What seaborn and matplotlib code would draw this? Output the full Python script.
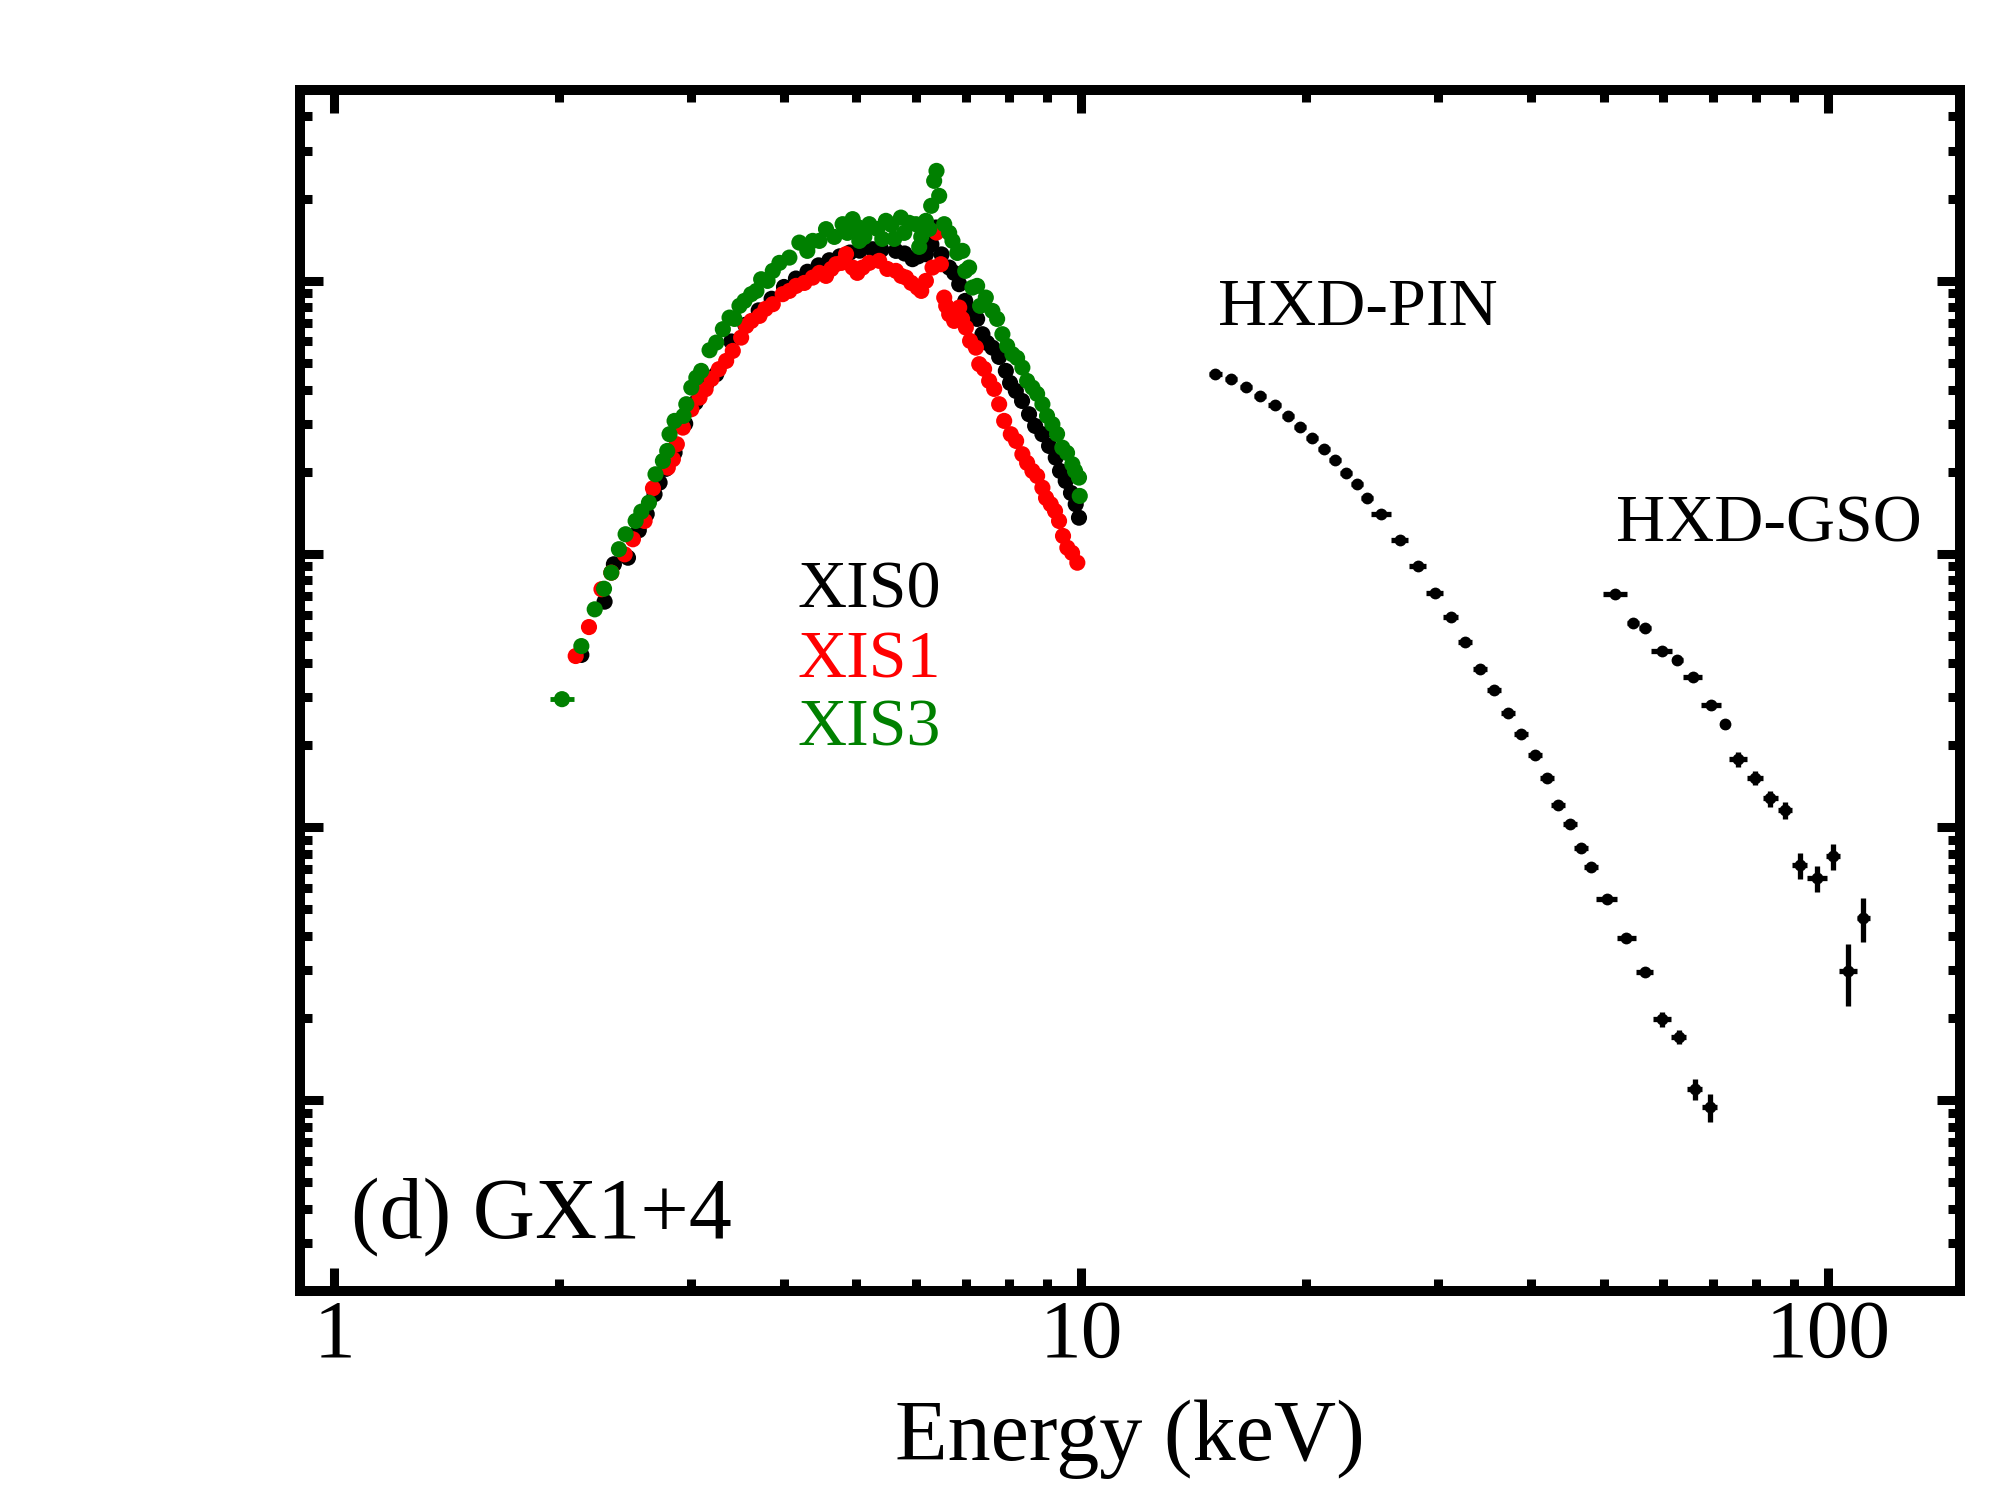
import numpy as np
import pandas as pd
import matplotlib
matplotlib.use("Agg")
import matplotlib.pyplot as plt
from matplotlib.ticker import FixedLocator, FixedFormatter, LogLocator, NullFormatter
import seaborn as sns

# XIS0 (black) - energy (keV), counts
xis0_e = [2.142, 2.301, 2.368, 2.473, 2.557, 2.62, 2.684, 2.726, 2.78, 2.855, 2.95,
          3.046, 3.15, 3.246, 3.40, 3.55, 3.70, 3.85, 4.00, 4.15, 4.30, 4.45, 4.60,
          4.75, 4.90, 5.05, 5.255, 5.40, 5.648, 5.80, 5.944, 6.05, 6.194, 6.30, 6.389,
          6.50, 6.655, 6.758, 6.864, 6.992, 7.150, 7.254, 7.373, 7.480, 7.603, 7.763,
          7.925, 8.029, 8.173, 8.331, 8.512, 8.673, 8.870, 9.054, 9.243, 9.365, 9.531,
          9.687, 9.829, 9.929]
xis0_y = [0.0427, 0.0669, 0.0917, 0.0969, 0.1221, 0.140, 0.1655, 0.1825, 0.205, 0.2350, 0.300,
          0.3583, 0.420, 0.4551, 0.60, 0.69, 0.78, 0.86, 0.95, 1.02, 1.08, 1.14, 1.19,
          1.23, 1.27, 1.29, 1.306, 1.30, 1.288, 1.26, 1.201, 1.23, 1.252, 1.36, 1.568,
          1.25, 1.119, 1.070, 0.9725, 0.8448, 0.7763, 0.7257, 0.6378, 0.5928, 0.5696, 0.5267,
          0.4682, 0.4230, 0.3955, 0.3634, 0.3249, 0.2944, 0.2745, 0.2487, 0.2253, 0.2014, 0.1851,
          0.1673, 0.1521, 0.1358]

# XIS1 (red)
xis1_e = [2.105, 2.193, 2.279, 2.349, 2.448, 2.511, 2.603, 2.671, 2.796, 2.840, 2.875,
          2.929, 3.006, 3.083, 3.141, 3.199, 3.272, 3.347, 3.416, 3.505, 3.560, 3.618,
          3.709, 3.778, 3.864, 3.984, 4.067, 4.152, 4.259, 4.370, 4.461, 4.553, 4.628,
          4.696, 4.774, 4.843, 4.942, 5.014, 5.096, 5.202, 5.364, 5.500, 5.648, 5.741,
          5.826, 5.921, 6.036, 6.106, 6.194, 6.322, 6.400, 6.487, 6.554, 6.594, 6.655,
          6.758, 6.864, 6.925, 7.006, 7.098, 7.226, 7.301, 7.411, 7.527, 7.645, 7.763,
          7.884, 8.047, 8.180, 8.339, 8.462, 8.601, 8.727, 8.870, 8.970, 9.101, 9.222,
          9.337, 9.452, 9.579, 9.719, 9.878]
xis1_y = [0.0423, 0.0540, 0.0743, 0.0854, 0.0997, 0.1132, 0.1321, 0.1740, 0.2071, 0.2223, 0.2522,
          0.2902, 0.3389, 0.3737, 0.4012, 0.4375, 0.4749, 0.5093, 0.5541, 0.6199, 0.6842, 0.7137,
          0.7445, 0.7900, 0.8216, 0.8940, 0.9191, 0.9587, 0.983, 1.028, 1.070, 1.043, 1.106,
          1.151, 1.164, 1.253, 1.119, 1.070, 1.119, 1.164, 1.184, 1.106, 1.088, 1.043,
          1.028, 0.983, 0.9451, 0.9191, 1.000, 1.119, 1.503, 1.151, 0.8686, 0.8100, 0.7551,
          0.7137, 0.7985, 0.7257, 0.6746, 0.6029, 0.5696, 0.4954, 0.4761, 0.4302, 0.4022, 0.3535,
          0.3071, 0.2745, 0.2594, 0.2319, 0.2155, 0.2014, 0.1931, 0.1749, 0.1604, 0.1521, 0.1437,
          0.1321, 0.1164, 0.1054, 0.1009, 0.0929]

# XIS3 (green)
xis3_e = [2.018, 2.142, 2.232, 2.297, 2.349, 2.405, 2.455, 2.532, 2.577, 2.638, 2.692,
          2.754, 2.791, 2.811, 2.855, 2.935, 2.960, 3.006, 3.053, 3.099, 3.180, 3.246,
          3.313, 3.382, 3.434, 3.487, 3.541, 3.615, 3.674, 3.728, 3.802, 3.864, 3.944,
          4.067, 4.194, 4.298, 4.370, 4.461, 4.553, 4.671, 4.792, 4.862, 4.942, 5.014,
          5.045, 5.124, 5.202, 5.333, 5.415, 5.476, 5.568, 5.618, 5.735, 5.794, 5.884,
          6.006, 6.068, 6.106, 6.194, 6.258, 6.296, 6.354, 6.400, 6.453, 6.554, 6.655,
          6.723, 6.823, 6.933, 6.992, 7.077, 7.150, 7.254, 7.321, 7.450, 7.603, 7.715,
          7.841, 7.957, 8.087, 8.205, 8.339, 8.462, 8.601, 8.727, 8.870, 8.998, 9.147,
          9.280, 9.432, 9.570, 9.727, 9.808, 9.929, 9.952]
xis3_y = [0.0294, 0.0460, 0.0627, 0.0746, 0.0854, 0.1041, 0.1181, 0.1321, 0.1429, 0.1541, 0.1958,
          0.2191, 0.2384, 0.2745, 0.3071, 0.3203, 0.3535, 0.4067, 0.4422, 0.4682, 0.5573, 0.5943,
          0.6655, 0.7338, 0.7257, 0.8100, 0.8448, 0.8940, 0.9191, 1.014, 1.000, 1.088, 1.164,
          1.217, 1.381, 1.288, 1.401, 1.401, 1.547, 1.449, 1.613, 1.499, 1.683, 1.577,
          1.401, 1.449, 1.613, 1.550, 1.425, 1.659, 1.604, 1.425, 1.705, 1.499, 1.631,
          1.613, 1.332, 1.449, 1.659, 1.550, 1.883, 2.324, 2.528, 2.048, 1.613, 1.499,
          1.401, 1.266, 1.288, 1.088, 1.119, 0.9451, 0.9587, 0.8100, 0.8686, 0.7763, 0.7257,
          0.6378, 0.5778, 0.5388, 0.5222, 0.4814, 0.4302, 0.4067, 0.3856, 0.3535, 0.3203, 0.2987,
          0.2751, 0.2451, 0.2344, 0.2131, 0.2014, 0.1904, 0.1631]

# half bin widths of the lowest-energy XIS bins (only ones wider than the dots)
xis0_low_hw = [0.035]
xis1_low_hw = [0.035]
xis3_low_hw = [0.073, 0.045]

# HXD-PIN
pin_e = [15.12, 15.87, 16.62, 17.37, 18.14, 18.89, 19.65, 20.37, 21.11, 21.83, 22.61,
         23.38, 24.12, 25.20, 26.67, 28.19, 29.71, 31.20, 32.65, 34.21, 35.65, 37.29,
         38.76, 40.43, 41.96, 43.49, 45.05, 46.61, 48.16, 50.51, 53.64, 56.75, 59.96,
         63.03, 66.19, 69.33]
pin_y = [0.455, 0.436, 0.409, 0.379, 0.3505, 0.3194, 0.2919, 0.2667, 0.2417, 0.2210, 0.1975,
         0.1800, 0.1600, 0.1397, 0.1122, 0.0902, 0.0718, 0.0588, 0.0475, 0.0379, 0.03176, 0.0261,
         0.02186, 0.01831, 0.01507, 0.01202, 0.01027, 0.0084, 0.00712, 0.00544, 0.00394, 0.00295, 0.00198,
         0.00171, 0.00110, 0.000941]
pin_xerr = [0.31, 0.29, 0.31, 0.32, 0.34, 0.35, 0.36, 0.38, 0.39, 0.40, 0.42,
            0.43, 0.45, 0.75, 0.72, 0.76, 0.81, 0.72, 0.70, 0.74, 0.77, 0.80,
            0.84, 0.87, 0.90, 0.94, 0.97, 1.0, 1.04, 1.60, 1.57, 1.54, 1.66,
            1.44, 1.57, 1.64]
pin_yerr = [0.004, 0.004, 0.004, 0.004, 0.003, 0.003, 0.003, 0.003, 0.003, 0.002, 0.002,
            0.002, 0.002, 0.002, 0.0015, 0.0012, 0.001, 0.0008, 0.0007, 0.0006, 0.0005, 0.0004,
            0.0004, 0.0003, 0.0003, 0.0002, 0.0002, 0.0002, 0.00015, 0.00012, 0.0001, 0.0001, 0.00012,
            0.0001, 0.0001, 0.00011]

# HXD-GSO
gso_e = [51.8, 54.7, 56.8, 59.8, 62.8, 65.8, 69.7, 72.7, 75.7, 79.7, 83.6, 87.6,
         91.5, 96.6, 101.5, 106.2, 111.4]
gso_y = [0.0712, 0.0560, 0.0534, 0.0441, 0.0409, 0.0354, 0.0279, 0.0238, 0.0177, 0.0151,
         0.01274, 0.01151, 0.00724, 0.00649, 0.00783, 0.00297, 0.00465]
gso_xerr = [1.9, 1.0, 1.0, 2.0, 1.0, 2.0, 2.1, 1.0, 2.0, 2.0, 1.9, 1.9,
            2.1, 3.0, 2.1, 2.9, 2.1]
gso_yerr = [0.002, 0.0017, 0.0016, 0.0013, 0.0012, 0.0011, 0.001, 0.0009, 0.00106, 0.0009,
            0.00085, 0.0008, 0.0008, 0.00071, 0.00086, 0.00075, 0.00085]

inst_colors = {"XIS0": "black", "XIS1": "#ff0000", "XIS3": "#008000"}

# draw order black -> red -> green, green ends up on top like the original
xis = pd.concat([
    pd.DataFrame({"E": xis0_e, "rate": xis0_y, "inst": "XIS0"}),
    pd.DataFrame({"E": xis1_e, "rate": xis1_y, "inst": "XIS1"}),
    pd.DataFrame({"E": xis3_e, "rate": xis3_y, "inst": "XIS3"}),
], ignore_index=True)

sns.set_theme(style="ticks")
plt.rcParams["font.family"] = ["Liberation Serif", "DejaVu Serif"]
plt.rcParams["text.color"] = "black"

fig = plt.figure(figsize=(20, 15), dpi=100)
ax = fig.add_axes([0.15, 0.1393, 0.83, 0.8007])

# low-energy XIS bins with visible width
ax.errorbar(xis0_e[:1], xis0_y[:1], xerr=xis0_low_hw, fmt="none", ecolor="black", elinewidth=3.5)
ax.errorbar(xis1_e[:1], xis1_y[:1], xerr=xis1_low_hw, fmt="none", ecolor="#ff0000", elinewidth=3.5)

sns.scatterplot(data=xis, x="E", y="rate", hue="inst", palette=inst_colors,
                hue_order=["XIS0", "XIS1", "XIS3"], s=135, linewidth=0,
                legend=False, ax=ax, zorder=3)
ax.errorbar(xis3_e[:2], xis3_y[:2], xerr=xis3_low_hw, fmt="none", ecolor="#008000",
            elinewidth=3.5, zorder=4)

ax.errorbar(pin_e, pin_y, xerr=pin_xerr, yerr=pin_yerr, fmt="o", color="black",
            ms=8.5, mew=0, elinewidth=3.8, capsize=0)
ax.errorbar(gso_e, gso_y, xerr=gso_xerr, yerr=gso_yerr, fmt="o", color="black",
            ms=8.5, mew=0, elinewidth=3.8, capsize=0)

ax.set_xscale("log")
ax.set_yscale("log")
ax.set_xlim(0.9, 150)
ax.set_ylim(2e-4, 5)

ax.xaxis.set_major_locator(FixedLocator([1, 10, 100]))
ax.xaxis.set_major_formatter(FixedFormatter(["1", "10", "100"]))
ax.xaxis.set_minor_locator(LogLocator(base=10, subs=np.arange(2, 10), numticks=100))
ax.xaxis.set_minor_formatter(NullFormatter())
ax.yaxis.set_major_locator(LogLocator(base=10, numticks=100))
ax.yaxis.set_minor_locator(LogLocator(base=10, subs=np.arange(2, 10), numticks=100))
ax.yaxis.set_major_formatter(NullFormatter())
ax.yaxis.set_minor_formatter(NullFormatter())

ax.tick_params(which="both", direction="in", top=True, right=True, color="black",
               width=6.5, labelleft=False, labelsize=60, labelcolor="black", pad=6)
ax.tick_params(which="major", length=16.5)
ax.tick_params(which="minor", length=8.6)
for sp in ax.spines.values():
    sp.set_linewidth(7.2)
    sp.set_color("black")

ax.set_xlabel("Energy (keV)", fontsize=62, color="black")
ax.set_ylabel("")
ax.xaxis.set_label_coords(0.5, -0.1407)
ax.xaxis.label.set_va("baseline")

ax.text(0.553, 0.804, "HXD-PIN", transform=ax.transAxes, fontsize=49, va="baseline")
ax.text(0.793, 0.624, "HXD-GSO", transform=ax.transAxes, fontsize=49, va="baseline")
ax.text(0.2994, 0.569, "XIS0", transform=ax.transAxes, fontsize=49, va="baseline", color="black")
ax.text(0.2994, 0.511, "XIS1", transform=ax.transAxes, fontsize=49, va="baseline", color="#ff0000")
ax.text(0.2994, 0.454, "XIS3", transform=ax.transAxes, fontsize=49, va="baseline", color="#008000")
ax.text(0.0307, 0.045, "(d) GX1+4", transform=ax.transAxes, fontsize=62, va="baseline")

fig.savefig("out.png", dpi=100)
plt.close(fig)
